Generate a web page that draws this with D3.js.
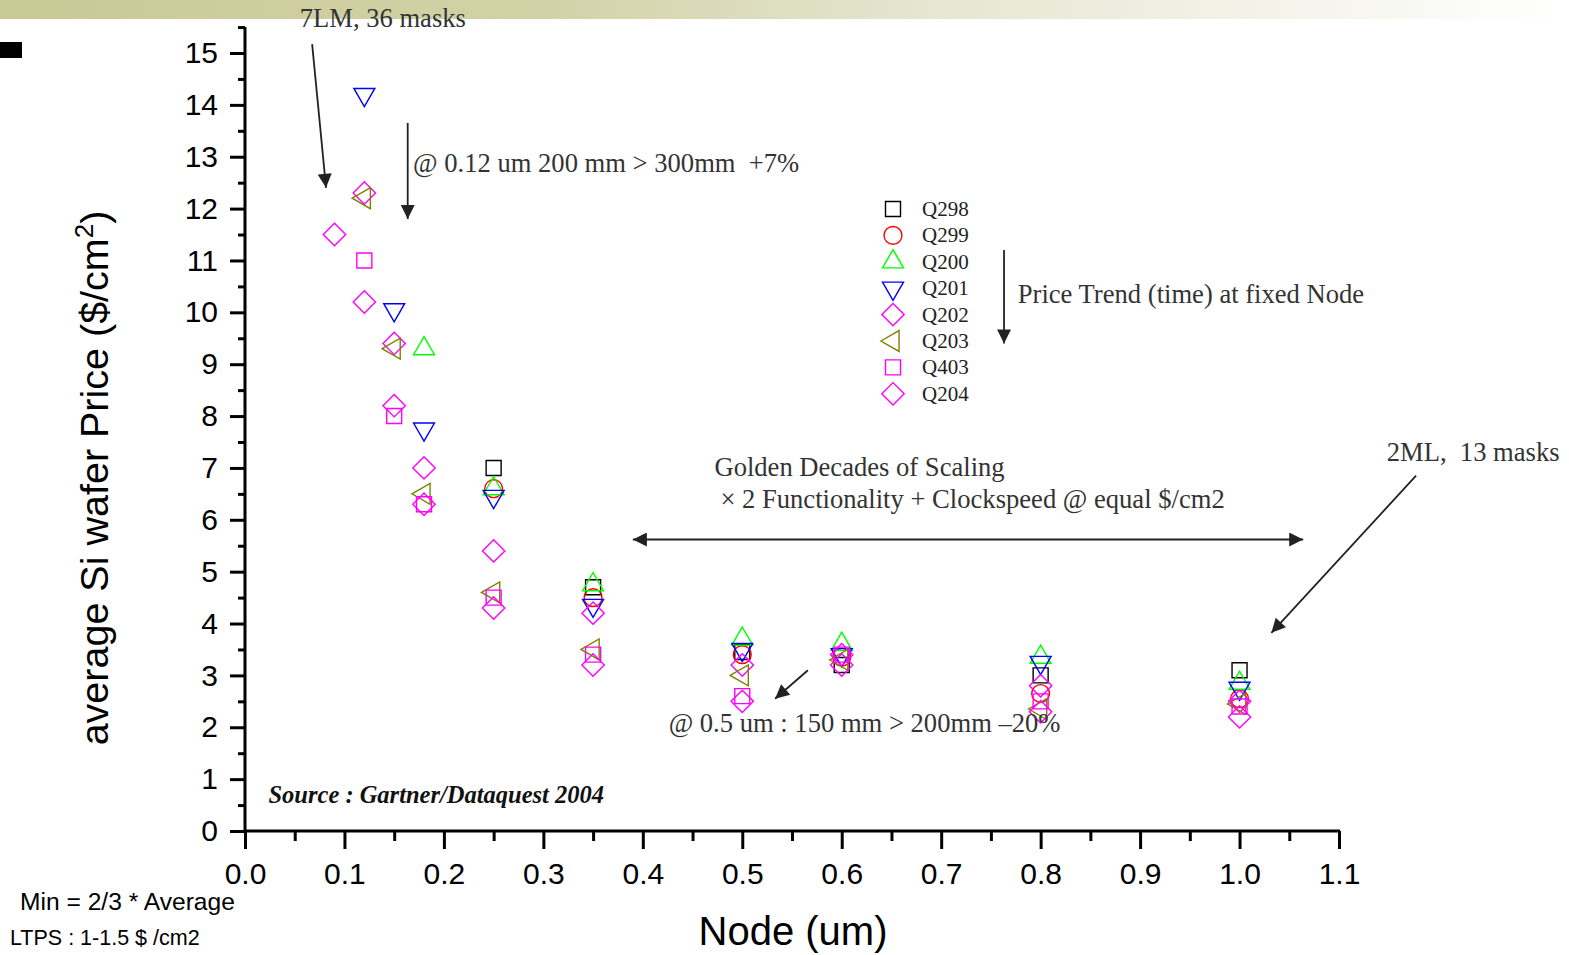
<!DOCTYPE html>
<html>
<head>
<meta charset="utf-8">
<script src="https://cdn.jsdelivr.net/npm/d3@7"></script>
<style>
  body { margin: 0; background: #fff; }
  svg { display: block; }
  .axis path, .axis line { stroke: #000; stroke-width: 3; }
  .axis text { font-family: "Liberation Sans", Arial, sans-serif; font-size: 30px; fill: #000; }
  .note { font-family: "Liberation Serif", "Times New Roman", serif; font-size: 26.6px; fill: #333; white-space: pre; }
  .legend text { font-family: "Liberation Serif", "Times New Roman", serif; font-size: 21px; fill: #222; }
</style>
</head>
<body>
<svg id="chart" width="1569" height="955"></svg>
<script>
// Data (node in um, price in $/cm2)
const seriesNames = ["Q298", "Q299", "Q200", "Q201", "Q202", "Q203", "Q403", "Q204"];
const seriesColors = ["#000000", "#ff0000", "#00ff00", "#0000ff", "#ff00ff", "#808000", "#ff00ff", "#ff00ff"];
const seriesShapes = ["square", "circle", "up", "down", "diamond", "left", "square", "diamond"];

const q298 = [[0.25, 7.0], [0.35, 4.7], [0.5, 3.45], [0.6, 3.2], [0.8, 3.0], [1.0, 3.1]];
const q299 = [[0.25, 6.6], [0.35, 4.5], [0.5, 3.4], [0.6, 3.35], [0.8, 2.65], [1.0, 2.55]];
const q200 = [[0.18, 9.3], [0.25, 6.6], [0.35, 4.75], [0.5, 3.7], [0.6, 3.6], [0.8, 3.35], [1.0, 2.85]];
const q201 = [[0.12, 14.2], [0.15, 10.05], [0.18, 7.75], [0.25, 6.45], [0.35, 4.35], [0.5, 3.5], [0.6, 3.4], [0.8, 3.25], [1.0, 2.75]];
const q202 = [[0.12, 12.3], [0.15, 9.4], [0.18, 7.0], [0.25, 5.4], [0.35, 4.2], [0.5, 3.2], [0.6, 3.4], [0.8, 2.8], [1.0, 2.5]];
const q203 = [[0.12, 12.2], [0.15, 9.3], [0.18, 6.5], [0.25, 4.6], [0.35, 3.5], [0.5, 3.0], [0.6, 3.3], [0.8, 2.35], [1.0, 2.45]];
const q403 = [[0.12, 11.0], [0.15, 8.0], [0.18, 6.3], [0.25, 4.5], [0.35, 3.4], [0.5, 2.6], [0.6, 3.4], [0.8, 2.5], [1.0, 2.4]];
const q204 = [[0.09, 11.5], [0.12, 10.2], [0.15, 8.2], [0.18, 6.3], [0.25, 4.3], [0.35, 3.2], [0.5, 2.5], [0.6, 3.2], [0.8, 2.3], [1.0, 2.2]];
const allSeries = [q298, q299, q200, q201, q202, q203, q403, q204];

const xTickValues = d3.range(0, 1.1001, 0.1);
const yTickValues = d3.range(0, 15.001, 1);

const svg = d3.select("#chart");

// header band
const grad = svg.append("defs").append("linearGradient").attr("id", "band");
grad.append("stop").attr("offset", "0%").attr("stop-color", "#c9c995");
grad.append("stop").attr("offset", "35%").attr("stop-color", "#d2d2a8");
grad.append("stop").attr("offset", "60%").attr("stop-color", "#e6e6d2");
grad.append("stop").attr("offset", "100%").attr("stop-color", "#ffffff");
svg.append("rect").attr("x", 0).attr("y", 0).attr("width", 1569).attr("height", 19).attr("fill", "url(#band)");
svg.append("rect").attr("x", 0).attr("y", 42).attr("width", 22).attr("height", 16).attr("fill", "#000");

const x = d3.scaleLinear().domain([0, 1.1]).range([245, 1339]);
const y = d3.scaleLinear().domain([0, 15]).range([831, 53]);

// y axis (line goes a bit above 15)
svg.append("line").attr("x1", 245).attr("x2", 245).attr("y1", 27).attr("y2", 832)
  .attr("stroke", "#000").attr("stroke-width", 3);
svg.append("g").attr("class", "axis")
  .attr("transform", "translate(245,0)")
  .call(d3.axisLeft(y).tickValues(d3.range(0.5, 15.6, 1)).tickSize(7).tickFormat(""))
  .call(g => g.select(".domain").remove());
svg.append("g").attr("class", "axis")
  .attr("transform", "translate(245,0)")
  .call(d3.axisLeft(y).tickValues(yTickValues).tickSize(15).tickPadding(12).tickFormat(d3.format("d")))
  .call(g => g.select(".domain").remove());

// x axis
svg.append("g").attr("class", "axis")
  .attr("transform", "translate(0,831)")
  .call(d3.axisBottom(x).tickValues(d3.range(0.05, 1.1, 0.1)).tickSize(10).tickFormat(""))
  .call(g => g.select(".domain").remove());
svg.append("g").attr("class", "axis")
  .attr("transform", "translate(0,831)")
  .call(d3.axisBottom(x).tickValues(xTickValues).tickSize(18).tickPadding(14).tickFormat(d3.format(".1f")))
  .call(g => g.select(".domain").attr("d", "M244,0H1340"));

// axis titles
const yt = svg.append("text")
  .attr("transform", "translate(108,478) rotate(-90)")
  .attr("text-anchor", "middle")
  .style("font-family", "Liberation Sans, Arial, sans-serif")
  .style("font-size", "39.5px").attr("fill", "#000");
yt.append("tspan").text("average Si wafer Price ($/cm");
yt.append("tspan").attr("dy", -15).style("font-size", "26px").text("2");
yt.append("tspan").attr("dy", 15).text(")");

svg.append("text").attr("x", 793).attr("y", 945).attr("text-anchor", "middle")
  .style("font-family", "Liberation Sans, Arial, sans-serif").style("font-size", "40px")
  .attr("fill", "#000").text("Node (um)");

// symbols
function symbolPath(shape) {
  if (shape === "square") return { d: d3.symbol(d3.symbolSquare, 225)(), rot: 0 };
  if (shape === "circle") return { d: d3.symbol(d3.symbolCircle, 250)(), rot: 0 };
  if (shape === "diamond") return { d: d3.symbol(d3.symbolSquare, 250)(), rot: 45 };
  const tri = d3.symbol(d3.symbolTriangle, 190)();
  if (shape === "up") return { d: tri, rot: 0 };
  if (shape === "down") return { d: tri, rot: 180 };
  return { d: tri, rot: -90 };
}

allSeries.forEach((pts, i) => {
  const s = symbolPath(seriesShapes[i]);
  svg.append("g").selectAll("path").data(pts).join("path")
    .attr("d", s.d)
    .attr("transform", d => `translate(${x(d[0])},${y(d[1])}) rotate(${s.rot})`)
    .attr("fill", "none")
    .attr("stroke", seriesColors[i])
    .attr("stroke-width", 1.4);
});

// legend
const legend = svg.append("g").attr("class", "legend");
seriesNames.forEach((name, i) => {
  const s = symbolPath(seriesShapes[i]);
  const ly = 209 + i * 26.4;
  legend.append("path").attr("d", s.d)
    .attr("transform", `translate(893,${ly}) rotate(${s.rot})`)
    .attr("fill", "none").attr("stroke", seriesColors[i]).attr("stroke-width", 1.4);
  legend.append("text").attr("x", 922).attr("y", ly + 7).text(name);
});

// annotations
const defs = svg.select("defs");
defs.append("marker").attr("id", "head").attr("viewBox", "0 0 10 10")
  .attr("refX", 10).attr("refY", 5).attr("markerWidth", 18).attr("markerHeight", 14)
  .attr("markerUnits", "userSpaceOnUse").attr("orient", "auto-start-reverse")
  .append("path").attr("d", "M0,0L10,5L0,10z").attr("fill", "#222");

function arrow(x1, y1, x2, y2, both) {
  const l = svg.append("line")
    .attr("x1", x(x1)).attr("y1", y(y1)).attr("x2", x(x2)).attr("y2", y(y2))
    .attr("stroke", "#222").attr("stroke-width", 1.8)
    .attr("marker-end", "url(#head)");
  if (both) l.attr("marker-start", "url(#head)");
}
function note(xv, yv, txt) {
  return svg.append("text").attr("class", "note").attr("x", x(xv)).attr("y", y(yv)).text(txt);
}

note(0.055, 15.5, "7LM, 36 masks");
arrow(0.0675, 15.17, 0.0815, 12.4);
arrow(0.1636, 13.65, 0.1636, 11.8);
note(0.169, 12.7, "@ 0.12 um 200 mm > 300mm  +7%");
arrow(0.7632, 11.2, 0.7632, 9.4);
note(0.777, 10.18, "Price Trend (time) at fixed Node");
note(0.472, 6.84, "Golden Decades of Scaling");
note(0.478, 6.22, "\u00d7 2 Functionality + Clockspeed @ equal $/cm2");
arrow(0.39, 5.62, 1.064, 5.62, true);
note(1.148, 7.13, "2ML,  13 masks");
arrow(1.1775, 6.85, 1.032, 3.82);
note(0.426, 1.91, "@ 0.5 um : 150 mm > 200mm \u201320%");
arrow(0.566, 3.1, 0.533, 2.55);

svg.append("text").attr("x", x(0.0236)).attr("y", y(0.54))
  .style("font-family", "Liberation Serif, Times New Roman, serif")
  .style("font-size", "24.5px").style("font-weight", "bold").style("font-style", "italic")
  .attr("fill", "#111").text("Source : Gartner/Dataquest 2004");

svg.append("text").attr("x", 20).attr("y", 910)
  .style("font-family", "Liberation Sans, Arial, sans-serif").style("font-size", "24.6px")
  .attr("fill", "#000").text("Min = 2/3 * Average");
svg.append("text").attr("x", 10).attr("y", 945)
  .style("font-family", "Liberation Sans, Arial, sans-serif").style("font-size", "21.5px")
  .attr("fill", "#000").text("LTPS : 1-1.5 $ /cm2");
</script>
</body>
</html>
